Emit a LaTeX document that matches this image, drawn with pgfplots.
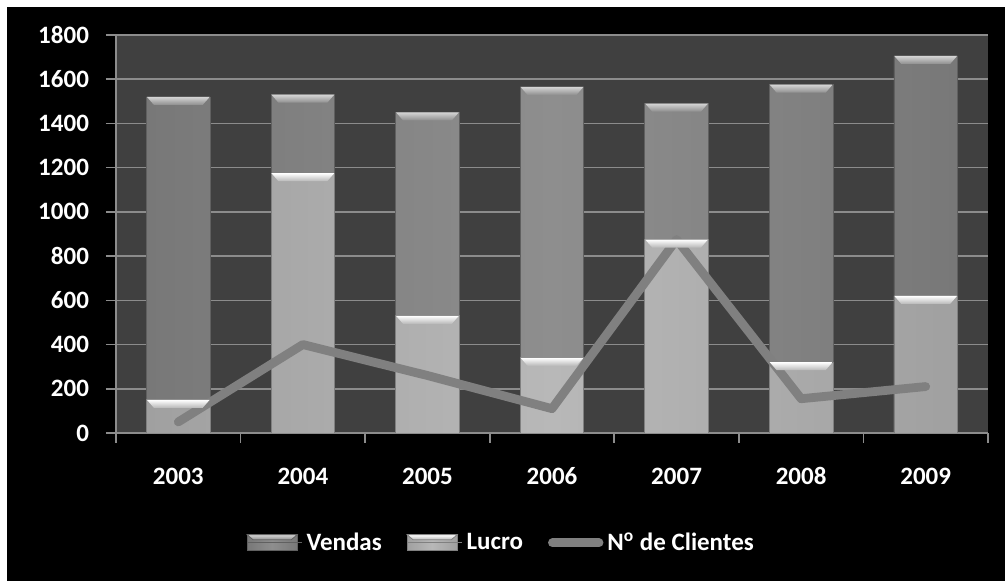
\documentclass[border=0pt]{standalone}
\usepackage{fontspec}
\setmainfont{Carlito}
\usepackage{pgfplots}
\pgfplotsset{compat=1.18}

\definecolor{plotbg}{HTML}{404040}
\definecolor{gridgray}{HTML}{8C8C8C}
\definecolor{vendasmid}{HTML}{8E8E8E}
\definecolor{vendasside}{HTML}{787878}
\definecolor{vendascap}{HTML}{D4D4D4}
\definecolor{lucromid}{HTML}{B8B8B8}
\definecolor{lucroside}{HTML}{A0A0A0}
\definecolor{lucrocap}{HTML}{FFFFFF}
\definecolor{linegray}{HTML}{808080}

% bevelled tops of the bars, placed as marks on the bar tops
\pgfdeclareverticalshading{vendasbevel}{100bp}{color(0bp)=(vendasmid); color(25bp)=(vendasmid); color(75bp)=(vendascap); color(100bp)=(vendascap)}
\pgfdeclareverticalshading{lucrobevel}{100bp}{color(0bp)=(lucromid); color(25bp)=(lucromid); color(75bp)=(lucrocap); color(100bp)=(lucrocap)}
\newcommand\bevelpath{%
  \pgfpathmoveto{\pgfpoint{-15.7pt}{0pt}}%
  \pgfpathlineto{\pgfpoint{15.7pt}{0pt}}%
  \pgfpathlineto{\pgfpoint{12.2pt}{-4pt}}%
  \pgfpathlineto{\pgfpoint{-12.2pt}{-4pt}}%
  \pgfpathclose}
\pgfdeclareplotmark{vcap}{\bevelpath\pgfshadepath{vendasbevel}{0}\pgfusepath{}}
\pgfdeclareplotmark{lcap}{\bevelpath\pgfshadepath{lucrobevel}{0}\pgfusepath{}}

\pgfplotsset{
  barlegend/.style 2 args={legend image code/.code={
      \draw[##1] (0pt,-4pt) rectangle (25pt,4pt);
      \shade[top color=#1, bottom color=#2]
        (0pt,4pt) -- (25pt,4pt) -- (22pt,1.5pt) -- (3pt,1.5pt) -- cycle;
      \path (0pt,0pt) -- (27.5pt,0pt);}},
  linelegend/.style={legend image code/.code={\draw[##1] (2.2pt,0pt) -- (25.5pt,0pt);}},
}

\pgfplotstableread{
x vendas lucro clientes
0 1520 150  50
1 1530 1175 400
2 1450 530  260
3 1565 340  110
4 1490 875  875
5 1575 320  155
6 1705 620  210
}\datatable

\begin{document}
\begin{tikzpicture}
\fill[white] (0pt,0pt) rectangle (502.5pt,290.5pt);
\fill[black] (3.5pt,0pt) rectangle (502.5pt,287pt);
\begin{axis}[
    at={(58pt,74pt)}, anchor=south west,
    scale only axis,
    width=436pt, height=199pt,
    xmin=-0.5, xmax=6.5,
    ymin=0, ymax=1800,
    ytick={0,200,...,1800},
    xtick={0,...,6},
    xticklabels={2003,2004,2005,2006,2007,2008,2009},
    minor xtick={-0.5,0.5,...,6.5},
    major x tick style={draw=none},
    axis lines*=left,
    axis line style={gridgray, line width=0.8pt},
    tick style={gridgray, line width=0.8pt},
    tick align=outside,
    major tick length=5pt, minor tick length=5pt,
    ymajorgrids=true,
    grid style={gridgray, line width=0.8pt},
    axis background/.style={fill=plotbg},
    /pgf/number format/assume math mode=true,
    /pgf/number format/1000 sep={},
    tick label style={font=\bfseries\fontsize{12.5}{14}\selectfont, text=white},
    yticklabel style={anchor=east, xshift=-5pt},
    xticklabel style={anchor=base, yshift=-21pt},
    legend columns=3,
    legend style={at={(0.443,-0.276)}, anchor=center, draw=none, fill=none,
        text=white, font=\bfseries\fontsize{12.5}{14}\selectfont,
        /tikz/every even column/.append style={column sep=10.5pt},
        inner sep=0pt},
]
\addplot[ybar, bar width=0.51, bar shift=0pt, draw=vendasside!80!black, line width=0.4pt,
    left color=vendasside, right color=vendasside, middle color=vendasmid,
    barlegend={vendascap}{vendasmid}]
    table[x=x, y=vendas] {\datatable};
\addlegendentry{Vendas}
\addplot[only marks, mark=vcap, forget plot] table[x=x, y=vendas] {\datatable};
\addplot[ybar, bar width=0.51, bar shift=0pt, draw=lucroside!80!black, line width=0.4pt,
    left color=lucroside, right color=lucroside, middle color=lucromid,
    barlegend={lucrocap}{lucromid}]
    table[x=x, y=lucro] {\datatable};
\addlegendentry{Lucro}
\addplot[only marks, mark=lcap, forget plot] table[x=x, y=lucro] {\datatable};
\addplot[sharp plot, linegray, line width=4.4pt, line cap=round, line join=round, linelegend]
    table[x=x, y=clientes] {\datatable};
\addlegendentry{N\textsuperscript{o} de Clientes}
\end{axis}
\end{tikzpicture}
\end{document}
